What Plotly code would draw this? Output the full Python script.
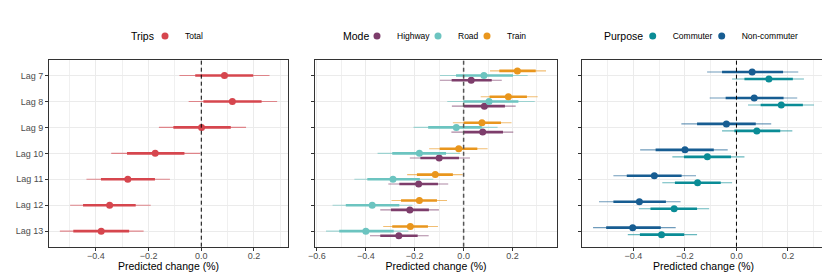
import plotly.graph_objects as go

# ---------------- data ----------------
lags = ["Lag 7", "Lag 8", "Lag 9", "Lag 10", "Lag 11", "Lag 12", "Lag 13"]

# Panel 1: Trips - Total
total_est = [0.088, 0.118, 0.001, -0.175, -0.279, -0.348, -0.380]
total_lo_in = [-0.023, 0.008, -0.106, -0.282, -0.381, -0.449, -0.486]
total_hi_in = [0.197, 0.229, 0.112, -0.064, -0.176, -0.249, -0.274]
total_lo_out = [-0.083, -0.048, -0.161, -0.342, -0.436, -0.498, -0.537]
total_hi_out = [0.259, 0.288, 0.170, -0.004, -0.119, -0.192, -0.219]

# Panel 2: Mode
highway_est = [0.031, 0.085, 0.078, -0.100, -0.184, -0.220, -0.265]
highway_lo_in = [-0.049, 0.001, 0.001, -0.177, -0.263, -0.297, -0.341]
highway_hi_in = [0.115, 0.169, 0.161, -0.019, -0.105, -0.142, -0.188]
highway_lo_out = [-0.097, -0.048, -0.050, -0.220, -0.308, -0.341, -0.383]
highway_hi_out = [0.156, 0.213, 0.203, 0.026, -0.063, -0.101, -0.143]

road_est = [0.083, 0.104, -0.030, -0.181, -0.289, -0.374, -0.400]
road_lo_in = [-0.031, -0.001, -0.145, -0.292, -0.394, -0.482, -0.509]
road_hi_in = [0.202, 0.224, 0.074, -0.072, -0.179, -0.263, -0.286]
road_lo_out = [-0.097, -0.067, -0.205, -0.352, -0.447, -0.536, -0.563]
road_hi_out = [0.262, 0.291, 0.139, -0.015, -0.124, -0.209, -0.226]

train_est = [0.220, 0.183, 0.075, -0.020, -0.116, -0.181, -0.218]
train_lo_in = [0.146, 0.106, 0.000, -0.098, -0.191, -0.256, -0.292]
train_hi_in = [0.295, 0.259, 0.153, 0.056, -0.044, -0.109, -0.146]
train_lo_out = [0.108, 0.070, -0.044, -0.141, -0.231, -0.295, -0.329]
train_hi_out = [0.337, 0.303, 0.196, 0.098, -0.004, -0.068, -0.105]

# Panel 3: Purpose
commuter_est = [0.126, 0.174, 0.079, -0.113, -0.151, -0.242, -0.291]
commuter_lo_in = [0.031, 0.094, -0.008, -0.204, -0.239, -0.334, -0.375]
commuter_hi_in = [0.219, 0.258, 0.170, -0.021, -0.061, -0.153, -0.203]
commuter_lo_out = [-0.017, 0.045, -0.056, -0.249, -0.288, -0.379, -0.422]
commuter_hi_out = [0.262, 0.301, 0.217, 0.031, -0.017, -0.106, -0.153]

noncomm_est = [0.061, 0.069, -0.039, -0.200, -0.319, -0.377, -0.403]
noncomm_lo_in = [-0.056, -0.042, -0.153, -0.314, -0.426, -0.478, -0.506]
noncomm_hi_in = [0.181, 0.183, 0.075, -0.088, -0.213, -0.274, -0.294]
noncomm_lo_out = [-0.114, -0.104, -0.214, -0.374, -0.478, -0.534, -0.557]
noncomm_hi_out = [0.240, 0.236, 0.135, -0.034, -0.157, -0.217, -0.236]

x_ticks = [-0.6, -0.4, -0.2, 0.0, 0.2]
x_minor = [-0.5, -0.3, -0.1, 0.1, 0.3]

# ---------------- styling ----------------
FONT = "Liberation Sans, Arial, sans-serif"
panels = [
    dict(name="Trips", series=[
        ("Total", "#d6464e", 0.0, 0, total_est, total_lo_in, total_hi_in, total_lo_out, total_hi_out),
    ]),
    dict(name="Mode", series=[
        ("Highway", "#7d3d6b", 0.18, 16, highway_est, highway_lo_in, highway_hi_in, highway_lo_out, highway_hi_out),
        ("Road", "#6cc4c0", 0.0, 4, road_est, road_lo_in, road_hi_in, road_lo_out, road_hi_out),
        ("Train", "#e9961d", -0.18, 0, train_est, train_lo_in, train_hi_in, train_lo_out, train_hi_out),
    ]),
    dict(name="Purpose", series=[
        ("Commuter", "#0a8c96", 0.135, 24, commuter_est, commuter_lo_in, commuter_hi_in, commuter_lo_out, commuter_hi_out),
        ("Non-commuter", "#175d92", -0.135, 0, noncomm_est, noncomm_lo_in, noncomm_hi_in, noncomm_lo_out, noncomm_hi_out),
    ]),
]

# page body has an 8px margin -> figure coords = screen coords - 8
W, H = 822, 269
x_px = [(41, 280), (307, 549), (574, 817)]
x_domains = [[a / W, b / W] for a, b in x_px]
y_domain = [(H - 238.7) / H, (H - 52) / H]
legend_x_px = [137, 349, 624.7]
title_end_px = [148, 363, 637]
legend_y = (H - 28) / H


def rgba(hexc, a):
    h = hexc.lstrip("#")
    return "rgba(%d,%d,%d,%.2f)" % (int(h[0:2], 16), int(h[2:4], 16), int(h[4:6], 16), a)


fig = go.Figure()
layout = dict(
    width=W, height=H,
    margin=dict(l=0, r=0, t=0, b=0),
    paper_bgcolor="white", plot_bgcolor="white",
    font=dict(family=FONT, color="#000000"),
    showlegend=True,
    shapes=[], annotations=[],
)

for p, panel in enumerate(panels):
    k = "" if p == 0 else str(p + 1)
    xa, ya = "x" + k, "y" + k
    leg = "legend" + k
    idx = list(range(len(lags)))

    # thin (outer) intervals first
    for (name, col, off, lw, est, lo_in, hi_in, lo_out, hi_out) in panel["series"]:
        ys = [i + off for i in idx]
        fig.add_trace(go.Scatter(
            x=est, y=ys, xaxis=xa, yaxis=ya, mode="markers",
            marker=dict(size=1, color="rgba(0,0,0,0)"),
            error_x=dict(type="data", symmetric=False,
                         array=[h - e for h, e in zip(hi_out, est)],
                         arrayminus=[e - l for e, l in zip(est, lo_out)],
                         width=0, thickness=1.1, color=rgba(col, 0.62)),
            showlegend=False, hoverinfo="skip", legend=leg,
        ))
    # thick (inner) intervals + points
    for (name, col, off, lw, est, lo_in, hi_in, lo_out, hi_out) in panel["series"]:
        ys = [i + off for i in idx]
        tr = dict(
            x=est, y=ys, xaxis=xa, yaxis=ya, mode="markers", name=name,
            marker=dict(size=7, color=col),
            error_x=dict(type="data", symmetric=False,
                         array=[h - e for h, e in zip(hi_in, est)],
                         arrayminus=[e - l for e, l in zip(est, lo_in)],
                         width=0, thickness=2.6, color=col),
            showlegend=True, legend=leg,
        )
        if lw:
            tr["legendwidth"] = lw
        fig.add_trace(go.Scatter(**tr))

    # x range from data with 5% expansion
    allx = []
    for s in panel["series"]:
        allx += s[7] + s[8]
    lo, hi = min(allx), max(allx)
    pad = 0.05 * (hi - lo)
    xr = [lo - pad, hi + pad]

    layout["xaxis" + k] = dict(
        domain=x_domains[p], anchor=ya, range=xr,
        tickvals=x_ticks, tickformat=".1f",
        ticks="outside", ticklen=3, tickwidth=1, tickcolor="#333333",
        ticklabelstandoff=-3,
        tickfont=dict(size=9, color="#4d4d4d", family=FONT),
        showgrid=True, gridcolor="#ebebeb", gridwidth=1,
        minor=dict(tickvals=x_minor, showgrid=True, gridcolor="#f0f0f0", gridwidth=0.7, ticks=""),
        showline=True, linecolor="#333333", linewidth=1, mirror=True,
        zeroline=False, automargin=False,
        title=dict(text="Predicted change (%)", font=dict(size=10.5, color="#000000", family=FONT), standoff=2),
    )
    layout["yaxis" + k] = dict(
        domain=y_domain, anchor=xa, range=[6.6, -0.6],
        tickvals=idx, ticktext=lags if p == 0 else [""] * len(lags),
        ticks="outside", ticklen=3, tickwidth=1, tickcolor="#333333",
        tickfont=dict(size=9, color="#4d4d4d", family=FONT),
        showgrid=True, gridcolor="#ebebeb", gridwidth=1,
        showline=True, linecolor="#333333", linewidth=1, mirror=True,
        zeroline=False, automargin=False,
    )
    layout[leg] = dict(
        x=legend_x_px[p] / W, xanchor="left",
        y=legend_y, yanchor="middle",
        orientation="h", bgcolor="rgba(0,0,0,0)", borderwidth=0,
        font=dict(size=8.5, family=FONT), itemwidth=30,
    )
    layout["annotations"].append(dict(
        text=panel["name"], xref="paper", yref="paper",
        x=title_end_px[p] / W, y=legend_y, xanchor="right", yanchor="middle",
        showarrow=False, font=dict(size=10.5, family=FONT, color="#000000"),
    ))
    dash_col = "#555555" if p == 1 else "#000000"
    layout["shapes"].append(dict(
        type="line", xref=xa, yref=ya + " domain", x0=0, x1=0, y0=0, y1=1,
        line=dict(color=dash_col, width=1.5 if p == 1 else 1, dash="4px,3px"), layer="above",
    ))

fig.update_layout(**layout)
fig.write_html("out.html")
